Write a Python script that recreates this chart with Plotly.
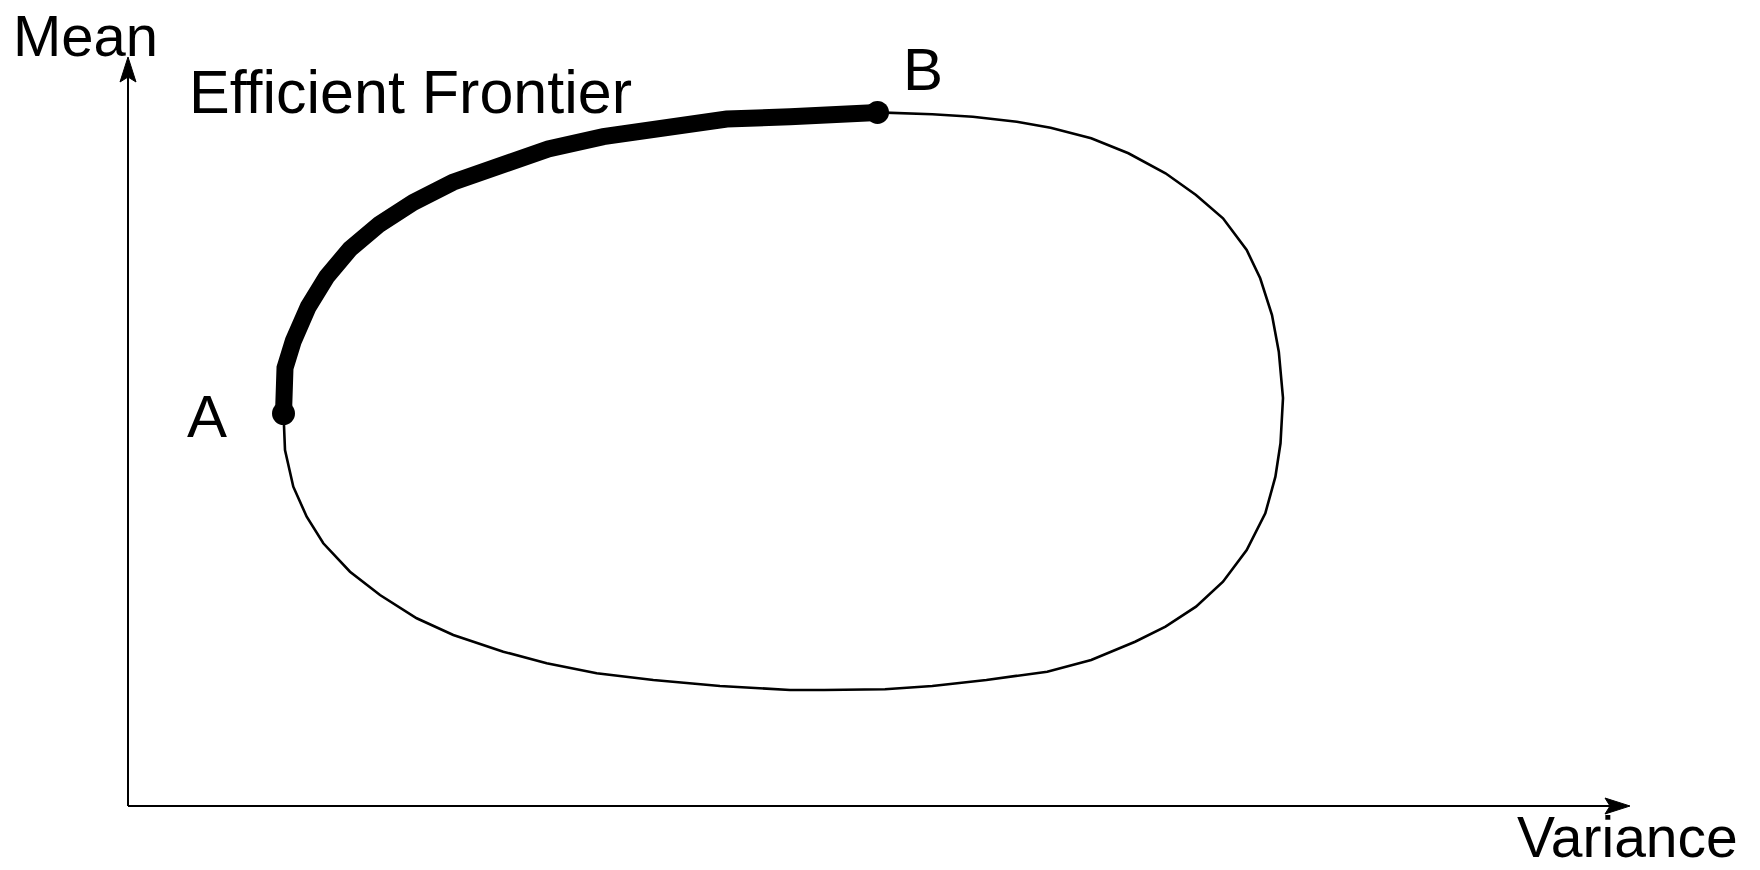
import plotly.graph_objects as go

# Efficient frontier (thick), from point A (minimum variance) up to point B (maximum mean)
frontier_variance = [1.555, 1.57, 1.653, 1.803, 1.987, 2.22, 2.513, 2.853, 3.247, 3.713,
                     4.203, 4.753, 5.353, 5.987, 6.62, 7.495]
frontier_mean = [3.925, 4.38, 4.65, 4.993, 5.293, 5.57, 5.817, 6.037, 6.237, 6.417,
                 6.57, 6.693, 6.793, 6.87, 6.893, 6.936]

# Remainder of the feasible-set boundary (thin), from B clockwise back to A
rest_variance = [7.495, 8.043, 8.448, 8.888, 9.226, 9.632, 10.004, 10.375, 10.68, 10.95,
                 11.187, 11.322, 11.44, 11.508, 11.55, 11.525, 11.474, 11.373, 11.187, 10.95,
                 10.68, 10.375, 10.071, 9.632, 9.192, 8.584, 8.043, 7.57, 6.961, 6.62,
                 5.92, 5.253, 4.687, 4.187, 3.753, 3.253, 2.887, 2.52, 2.22, 1.953,
                 1.787, 1.653, 1.57, 1.555]
rest_mean = [6.936, 6.917, 6.893, 6.843, 6.783, 6.677, 6.527, 6.327, 6.11, 5.877,
             5.56, 5.277, 4.91, 4.543, 4.08, 3.627, 3.293, 2.927, 2.56, 2.243,
             1.993, 1.793, 1.643, 1.46, 1.343, 1.26, 1.2, 1.167, 1.16, 1.16,
             1.2, 1.26, 1.327, 1.427, 1.543, 1.71, 1.877, 2.11, 2.343, 2.627,
             2.893, 3.193, 3.56, 3.925]

# Labelled points
point_labels = ["A", "B"]
point_variance = [1.555, 7.495]
point_mean = [3.925, 6.936]

# Axis extents (origin at 0,0)
x_axis_end = 15.02
y_axis_end = 7.49

FONT = "Liberation Sans"
BLACK = "#000000"

fig = go.Figure()

fig.add_trace(go.Scatter(x=rest_variance, y=rest_mean, mode="lines",
                         line=dict(color=BLACK, width=2.6), hoverinfo="skip",
                         showlegend=False))
fig.add_trace(go.Scatter(x=frontier_variance, y=frontier_mean, mode="lines",
                         line=dict(color=BLACK, width=17), hoverinfo="skip",
                         showlegend=False))
fig.add_trace(go.Scatter(x=point_variance, y=point_mean, mode="markers",
                         marker=dict(color=BLACK, size=23), hoverinfo="skip",
                         showlegend=False))

# Axes drawn as arrows
L, HW, NOTCH = 0.25, 0.08, 0.05
fig.add_shape(type="line", x0=0, y0=0, x1=x_axis_end - L + NOTCH, y1=0,
              line=dict(color=BLACK, width=2))
fig.add_shape(type="line", x0=0, y0=0, x1=0, y1=y_axis_end - L + NOTCH,
              line=dict(color=BLACK, width=2))
xe, ye = x_axis_end, y_axis_end
fig.add_shape(type="path",
              path=f"M {xe},0 L {xe-L},{HW} L {xe-L+NOTCH},0 L {xe-L},{-HW} Z",
              fillcolor=BLACK, line=dict(color=BLACK, width=1))
fig.add_shape(type="path",
              path=f"M 0,{ye} L {HW},{ye-L} L 0,{ye-L+NOTCH} L {-HW},{ye-L} Z",
              fillcolor=BLACK, line=dict(color=BLACK, width=1))

def label(text, x, y, size):
    fig.add_annotation(x=x, y=y, text=text, showarrow=False, xanchor="center",
                       yanchor="middle", borderpad=0,
                       font=dict(family=FONT, size=size, color=BLACK))

label("Mean", -0.43, 7.71, 58)
label("Variance", 14.99, -0.31, 57)
label("Efficient Frontier", 2.82, 7.145, 61)
label(point_labels[0], 0.79, 3.895, 60)
label(point_labels[1], 7.95, 7.365, 60)

fig.update_layout(
    width=1760, height=870,
    margin=dict(l=0, r=0, t=0, b=0),
    paper_bgcolor="white", plot_bgcolor="white",
    xaxis=dict(range=[-1.28, 16.32], visible=False, fixedrange=True),
    yaxis=dict(range=[-0.64, 8.06], visible=False, fixedrange=True),
    showlegend=False,
)

fig.write_html("out.html", config={"displayModeBar": False},
               post_script="document.body.style.margin='0';document.body.style.overflow='hidden';")
